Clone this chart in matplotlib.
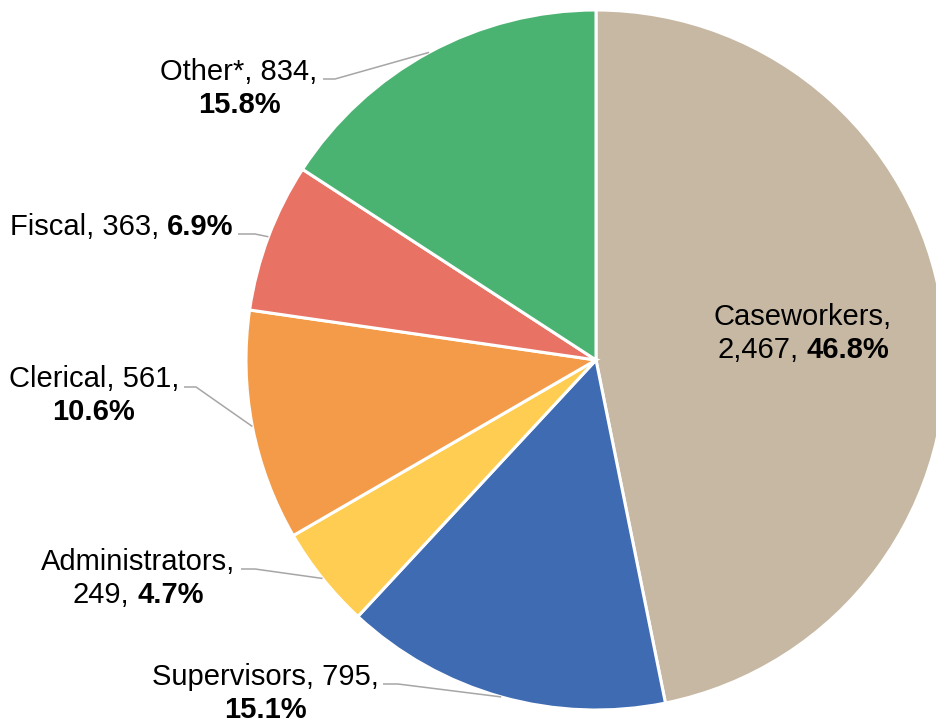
import matplotlib.pyplot as plt
import numpy as np

plt.rcParams['font.family'] = ['Liberation Sans', 'DejaVu Sans']

# Staff counts by position, in drawing order (clockwise from 12 o'clock)
categories = ["Caseworkers", "Supervisors", "Administrators", "Clerical", "Fiscal", "Other*"]
counts = [2467, 795, 249, 561, 363, 834]
colors = ["#C7B8A4", "#3F6BB3", "#FECD51", "#F39B48", "#E87263", "#4BB371"]

W, H = 937, 723
FONT_SIZE = 21
LEADER_COLOR = "#A6A6A6"

fig = plt.figure(figsize=(W / 100, H / 100), dpi=100)
ax = fig.add_axes([0, 0, 1, 1])

center = (596, 360)
radius = 350

# y axis runs downward, so counterclock=True reads clockwise on screen
wedges, _ = ax.pie(counts, colors=colors, startangle=-90, counterclock=True,
                   center=center, radius=radius,
                   wedgeprops=dict(edgecolor="white", linewidth=2.2))

ax.set_xlim(0, W)
ax.set_ylim(H, 0)
ax.set_aspect("auto")
ax.axis("off")

total = sum(counts)
pcts = [100.0 * c / total for c in counts]

renderer = fig.canvas.get_renderer()


def draw_line(x, y, parts, gap=8):
    # parts: list of (string, weight); the line is centred on x, baseline at y
    texts = [ax.text(0, y, s, fontsize=FONT_SIZE, fontweight=w, va="baseline",
                     ha="left", color="black") for s, w in parts]
    widths = [t.get_window_extent(renderer).width for t in texts]
    full = sum(widths) + gap * (len(texts) - 1)
    pos = x - full / 2
    for t, w in zip(texts, widths):
        t.set_x(pos)
        pos += w + gap


def edge_point(i):
    w = wedges[i]
    mid = np.deg2rad((w.theta1 + w.theta2) / 2)
    return center[0] + radius * np.cos(mid), center[1] + radius * np.sin(mid)


def leader(i, x0, y0, x1):
    ex, ey = edge_point(i)
    ax.plot([x0, x1, ex], [y0, y0, ey], color=LEADER_COLOR, lw=1.1,
            solid_capstyle="butt")


def fmt(c):
    return f"{c:,}"


def pct(i):
    return f"{pcts[i]:.1f}%"


# Caseworkers (inside the slice)
draw_line(803, 325, [("Caseworkers,", "normal")])
draw_line(803, 358, [(fmt(counts[0]) + ",", "normal"), (pct(0), "bold")])

# Supervisors
draw_line(265, 685, [("Supervisors, " + fmt(counts[1]) + ",", "normal")])
draw_line(265, 718, [(pct(1), "bold")])
leader(1, 383, 684, 398)

# Administrators
draw_line(138, 570, [("Administrators,", "normal")])
draw_line(138, 603, [(fmt(counts[2]) + ",", "normal"), (pct(2), "bold")])
leader(2, 241, 569, 255)

# Clerical
draw_line(94, 387, [("Clerical, " + fmt(counts[3]) + ",", "normal")])
draw_line(94, 420, [(pct(3), "bold")])
leader(3, 184, 387, 196)

# Fiscal
draw_line(122, 235, [("Fiscal, " + fmt(counts[4]) + ",", "normal"), (pct(4), "bold")])
leader(4, 238, 234, 255)

# Other
draw_line(239, 80, [("Other*, " + fmt(counts[5]) + ",", "normal")])
draw_line(239, 113, [(pct(5), "bold")])
leader(5, 323, 79, 335)

fig.savefig("out.png", dpi=100)
